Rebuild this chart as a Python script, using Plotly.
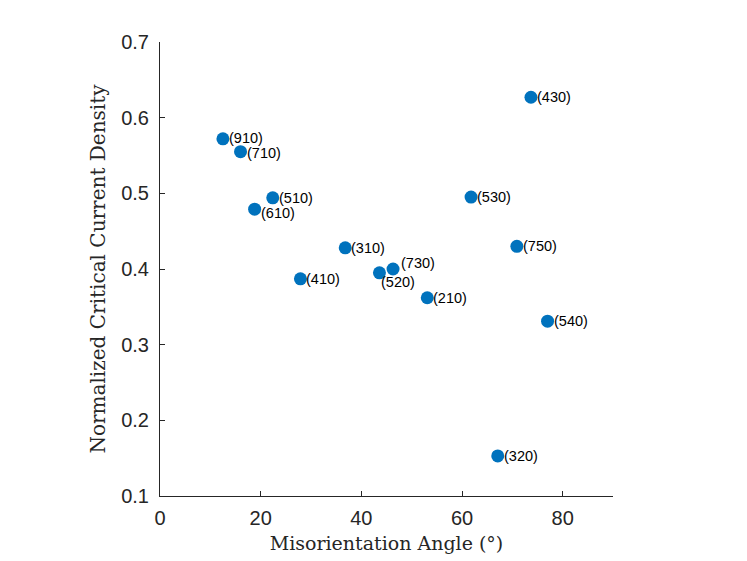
import plotly.graph_objects as go

angles = [12.5, 16.0, 22.4, 18.8, 36.8, 27.9, 43.6, 46.3, 53.1, 73.7, 61.8, 70.9, 77.0, 67.1]
jc = [0.572, 0.555, 0.494, 0.479, 0.428, 0.387, 0.395, 0.400, 0.362, 0.627, 0.495, 0.430, 0.331, 0.153]
labels = ["(910)", "(710)", "(510)", "(610)", "(310)", "(410)", "(520)", "(730)",
          "(210)", "(430)", "(530)", "(750)", "(540)", "(320)"]
label_dy = [1, -1, 0, -4, 0, 0, -9, 6, 0, 0, 0, 0, 0, 0]
label_dx = [4, 4, 4, 4, 4, 4, 0, 6, 4, 4, 4, 4, 4, 4]

xticks = [0, 20, 40, 60, 80]
yticks = [0.1, 0.2, 0.3, 0.4, 0.5, 0.6, 0.7]

fig = go.Figure()
fig.add_trace(go.Scatter(
    x=angles, y=jc, mode="markers",
    marker=dict(size=13, color="#0072BD"),
    showlegend=False, hoverinfo="skip"))

for x, y, t, dx, dy in zip(angles, jc, labels, label_dx, label_dy):
    fig.add_annotation(x=x, y=y, text=t, showarrow=False, xanchor="left",
                       yanchor="middle", xshift=dx, yshift=dy,
                       font=dict(family="Liberation Sans, Arial", size=14.5, color="#000000"))

axis_common = dict(
    showgrid=False, zeroline=False, showline=True, linecolor="#262626", linewidth=1,
    ticks="inside", ticklen=5, tickcolor="#262626", mirror=False,
    tickfont=dict(family="Liberation Sans, Arial", size=20, color="#262626"),
)

fig.update_xaxes(range=[0, 90], tickvals=xticks, ticklabelstandoff=4, **axis_common,
                 title=dict(text="Misorientation Angle (°)",
                            font=dict(family="DejaVu Serif", size=19, color="#262626"),
                            standoff=8))
fig.update_yaxes(range=[0.1, 0.7], tickvals=yticks, tickformat=".1f", ticklabelstandoff=6,
                 **axis_common,
                 title=dict(text="Normalized Critical Current Density",
                            font=dict(family="DejaVu Serif", size=20, color="#262626"),
                            standoff=10))

fig.update_layout(
    width=747, height=561,
    margin=dict(l=152, r=142, t=34, b=73, autoexpand=False),
    plot_bgcolor="white", paper_bgcolor="white",
)

fig.write_html("out.html")
